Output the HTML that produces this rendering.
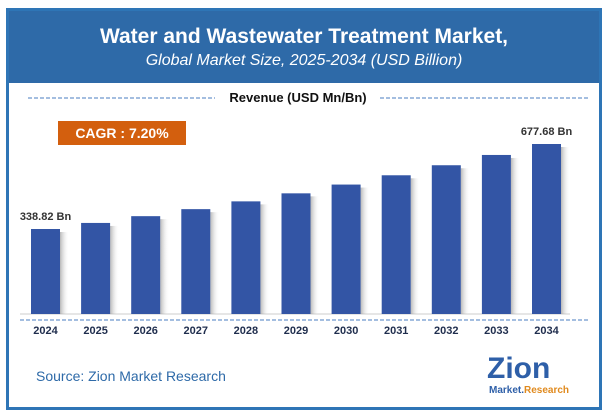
<!DOCTYPE html>
<html><head><meta charset="utf-8"><style>
body{margin:0;width:605px;height:415px;background:#fff;font-family:"Liberation Sans",sans-serif;overflow:hidden}
#frame{position:absolute;left:6px;top:8px;width:590px;height:396px;border:3px solid #2e75b6;background:#fff}
#hdr{position:absolute;left:0;top:0;width:590px;height:72px;background:#2e6aa8;color:#fff;text-align:center}
</style></head><body>
<div id="frame">
<div id="hdr">
<div style="font-weight:bold;font-size:21px;margin-top:14px">Water and Wastewater Treatment Market,</div>
<div style="font-style:italic;font-size:16px;margin-top:3px">Global Market Size, 2025-2034 (USD Billion)</div>
</div></div>
<svg id="c" width="605" height="415" style="position:absolute;left:0;top:0">
<defs><linearGradient id="sh" x1="0" x2="1"><stop offset="0" stop-color="#999" stop-opacity=".7"/><stop offset="1" stop-color="#fff" stop-opacity="0"/></linearGradient></defs>
<line x1="28" y1="98" x2="215" y2="98" stroke="#4a7cc0" stroke-dasharray="4,2"/>
<line x1="380" y1="98" x2="590" y2="98" stroke="#4a7cc0" stroke-dasharray="4,2"/>
<text x="298" y="102" text-anchor="middle" font-size="13" font-weight="bold" fill="#111">Revenue (USD Mn/Bn)</text>
<rect x="58" y="121" width="128" height="24" fill="#d35f0e"/>
<text x="122" y="138" text-anchor="middle" font-size="14" font-weight="bold" fill="#fff">CAGR : 7.20%</text>
<line x1="20" y1="314" x2="570" y2="314" stroke="#ccc"/>
<line x1="20" y1="320" x2="590" y2="320" stroke="#4a7cc0" stroke-dasharray="4,2"/>
<text x="36" y="381" font-size="14" fill="#2e6aa8">Source: Zion Market Research</text>
<g>
<text x="487" y="378" font-size="30" font-weight="bold" fill="#2e5fa8">Zion</text>
<text x="489" y="393" font-size="10" font-weight="bold" fill="#2e5fa8">Market.<tspan fill="#e08a1e">Research</tspan></text>
</g>
<g id="bars"></g>
</svg>
<script>
const years=["2024","2025","2026","2027","2028","2029","2030","2031","2032","2033","2034"];
const values=[338.82,363,390,418,449,481,516,553,593,634,677.68];
const labels={0:"338.82 Bn",10:"677.68 Bn"};
const base=314,scale=170/677.68;
const x=i=>31+i*50.1, y=v=>base-v*scale;
const g=document.getElementById('bars'),NS="http://www.w3.org/2000/svg";
years.forEach((yr,i)=>{
 const s=document.createElementNS(NS,'rect');
 s.setAttribute('x',x(i)+29);s.setAttribute('y',y(values[i])+3);s.setAttribute('width',9);s.setAttribute('height',base-y(values[i])-3);s.setAttribute('fill','url(#sh)');
 
 
 g.appendChild(s);
 const r=document.createElementNS(NS,'rect');
 r.setAttribute('x',x(i));r.setAttribute('y',y(values[i]));r.setAttribute('width',29);r.setAttribute('height',base-y(values[i]));r.setAttribute('fill','#3355a5');
 
 
 g.appendChild(r);
 const t=document.createElementNS(NS,'text');
 t.setAttribute('x',x(i)+14.5);t.setAttribute('y',334);t.setAttribute('text-anchor','middle');t.setAttribute('font-size','11');t.setAttribute('font-weight','bold');t.setAttribute('fill','#1f2d4d');
 t.textContent=yr;
 
 
 g.appendChild(t);
 if(labels[i]){
  const l=document.createElementNS(NS,'text');
  l.setAttribute('x',x(i)+14.5);l.setAttribute('y',y(values[i])-9);l.setAttribute('text-anchor','middle');l.setAttribute('font-size','11');l.setAttribute('font-weight','bold');l.setAttribute('fill','#333');
  l.textContent=labels[i];
  
  
  g.appendChild(l);
 }
});
</script>
</body></html>
